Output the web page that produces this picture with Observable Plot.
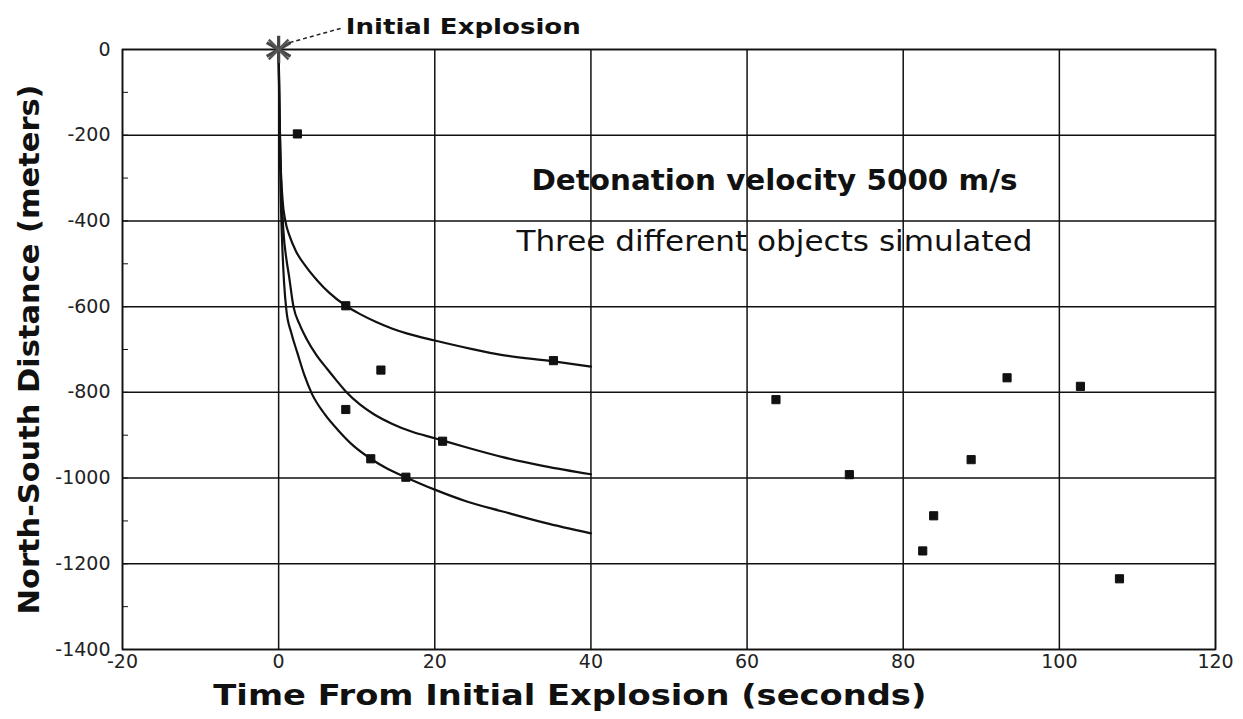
<!DOCTYPE html>
<html>
<head>
<meta charset="utf-8">
<script src="https://cdn.jsdelivr.net/npm/d3@7"></script>
<script src="https://cdn.jsdelivr.net/npm/@observablehq/plot@0.6"></script>
<style>
  html, body { margin: 0; padding: 0; background: #fff; }
  #chart svg { display: block; }
</style>
</head>
<body>
<div id="chart"></div>
<script>
// ---- Tick values ----
const xTicks = [-20, 0, 20, 40, 60, 80, 100, 120];
const yTicks = [0, -200, -400, -600, -800, -1000, -1200, -1400];
const yMinorTicks = [-100, -200, -300, -400, -500, -600, -700, -800, -900, -1000, -1100, -1200, -1300];

// ---- Simulated trajectories (time s, distance m) ----
const curveA = [[0,0],[0.1,-130],[0.25,-260],[0.5,-350],[0.86,-400],[1.4,-435],[2.2,-470],[3.6,-509],[5,-540],[6.5,-568],[8.6,-598],[10.5,-618],[12.5,-636],[14.5,-651],[16.5,-663],[20,-679],[24.8,-699],[28.7,-713],[35,-727],[40,-740]];
const curveB = [[0,0],[0.1,-140],[0.3,-300],[0.6,-420],[1,-490],[1.3,-525],[1.9,-600],[2.7,-642],[3.6,-676],[4.8,-712],[6.2,-745],[7.4,-772],[8.6,-798],[10.4,-828],[12.2,-851],[14.5,-873],[17.1,-892],[20,-907],[24,-928],[28.7,-951],[34,-972],[40,-991]];
const curveC = [[0,0],[0.1,-170],[0.25,-330],[0.45,-450],[0.7,-545],[1,-610],[1.6,-660],[2.4,-708],[3.3,-760],[4.25,-803],[5.9,-851],[7.7,-890],[9.6,-925],[11.8,-955],[14,-979],[16.4,-999],[20,-1027],[24,-1054],[28.7,-1078],[34,-1104],[40,-1129]];

// ---- Observed points ----
const pointTime = [2.4, 8.6, 13.1, 8.6, 21.0, 11.8, 16.3, 35.2, 63.7, 73.1, 82.5, 83.9, 88.7, 93.3, 102.7, 107.7];
const pointDist = [-197, -598, -748, -840, -914, -955, -998, -726, -817, -992, -1170, -1088, -957, -766, -786, -1235];

// ---- Texts ----
const explosionLabel = "Initial Explosion";
const noteTitle = "Detonation velocity 5000 m/s";
const noteSub = "Three different objects simulated";
const xTitle = "Time From Initial Explosion (seconds)";
const yTitle = "North-South Distance (meters)";

// ---- Build tables ----
const curveRows = [];
[["A", curveA], ["B", curveB], ["C", curveC]].forEach(([name, arr]) =>
  arr.forEach(([t, d]) => curveRows.push({series: name, t, d})));
const pointRows = pointTime.map((t, i) => ({t, d: pointDist[i]}));
const origin = [{t: 0, d: 0}];

const FONT = "'DejaVu Sans', Verdana, sans-serif";

const chart = Plot.plot({
  width: 1243,
  height: 719,
  marginTop: 49,
  marginBottom: 70,
  marginLeft: 122,
  marginRight: 28,
  style: {fontFamily: FONT, background: "#fff", color: "#111", overflow: "visible"},
  x: {domain: [-20, 120]},
  y: {domain: [-1400, 0]},
  marks: [
    Plot.gridX(xTicks, {stroke: "#111", strokeOpacity: 1, strokeWidth: 1.5}),
    Plot.gridY(yTicks, {stroke: "#111", strokeOpacity: 1, strokeWidth: 1.5}),
    Plot.frame({stroke: "#111", strokeWidth: 1.6}),
    Plot.axisY({ticks: yMinorTicks, tickSize: -6, text: null, label: null, stroke: "#111"}),
    Plot.axisX({ticks: xTicks, tickSize: 0, tickPadding: 5, fontSize: 19, fill: "#222",
                tickFormat: d => String(d), label: null}),
    Plot.axisY({ticks: yTicks, tickSize: 0, tickPadding: 12, fontSize: 19, fill: "#222",
                tickFormat: d => String(d), label: null}),
    Plot.line(curveRows, {x: "t", y: "d", z: "series", stroke: "#111", strokeWidth: 2.2, curve: "monotone-x"}),
    Plot.dot(pointRows, {x: "t", y: "d", symbol: "square", r: 4.6, fill: "#111", stroke: "#111", strokeWidth: 1}),
    Plot.dot(origin, {x: "t", y: "d", symbol: "asterisk", r: 13, stroke: "#444", strokeWidth: 3.2}),
    Plot.dot(origin, {x: "t", y: "d", symbol: "times", r: 9, stroke: "#555", strokeWidth: 2.5}),
    Plot.link(origin, {x1: 1.4, y1: 16, x2: 8.1, y2: 50, stroke: "#222", strokeWidth: 1.5, strokeDasharray: "4,3"}),
    Plot.text(origin, {x: 8.6, y: 52, text: () => explosionLabel, textAnchor: "start", lineAnchor: "middle",
                       fontSize: 21, fontWeight: "bold", fill: "#111", className: "fit-explosion"}),
    Plot.text(origin, {x: 63.5, y: -306, text: () => noteTitle, fontSize: 28, fontWeight: "bold", fill: "#111", className: "fit-title"}),
    Plot.text(origin, {x: 63.5, y: -450, text: () => noteSub, fontSize: 28, fill: "#111", className: "fit-sub"}),
    Plot.text(origin, {x: 37.3, frameAnchor: "bottom", dy: 46, lineAnchor: "middle", text: () => xTitle,
                       fontSize: 29, fontWeight: "bold", fill: "#111", className: "fit-xtitle"}),
    Plot.text(origin, {frameAnchor: "left", dx: -93, rotate: -90, textAnchor: "middle", lineAnchor: "middle",
                       text: () => yTitle, fontSize: 29, fontWeight: "bold", fill: "#111", className: "fit-ytitle"})
  ]
});
document.getElementById("chart").appendChild(chart);

// Fit text widths to the reference's wide typeface
const fits = {"fit-explosion": 235, "fit-title": 486, "fit-sub": 516, "fit-xtitle": 713, "fit-ytitle": 530};
for (const [cls, len] of Object.entries(fits)) {
  chart.querySelectorAll(`.${cls} text`).forEach(t => {
    t.setAttribute("textLength", len);
    t.setAttribute("lengthAdjust", "spacingAndGlyphs");
  });
}
</script>
</body>
</html>
